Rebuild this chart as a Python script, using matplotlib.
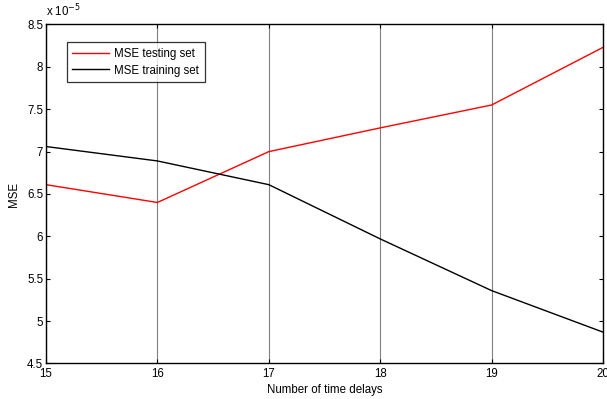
import matplotlib
matplotlib.use("Agg")
import matplotlib.pyplot as plt
from matplotlib.ticker import FuncFormatter, MultipleLocator

plt.rcParams['font.family'] = ['Liberation Sans', 'DejaVu Sans']

# MSE per number of time delays
delays = [15, 16, 17, 18, 19, 20]
mse_testing = [6.61e-5, 6.40e-5, 7.00e-5, 7.28e-5, 7.55e-5, 8.23e-5]
mse_training = [7.06e-5, 6.89e-5, 6.61e-5, 5.97e-5, 5.36e-5, 4.87e-5]

fs = 8.3

fig = plt.figure(figsize=(6.07, 3.99), dpi=100)
ax = fig.add_axes([0.0758, 0.089, 0.9176, 0.8496])

ax.plot(delays, mse_testing, color='#ff0000', linewidth=1.0, label='MSE testing set')
ax.plot(delays, mse_training, color='black', linewidth=1.0, label='MSE training set')

ax.set_xlim(15, 20)
ax.set_ylim(4.5e-5, 8.5e-5)
ax.xaxis.set_major_locator(MultipleLocator(1))
ax.yaxis.set_major_locator(MultipleLocator(0.5e-5))
ax.yaxis.set_major_formatter(FuncFormatter(lambda v, p: f"{v / 1e-5:g}"))

# vertical grid only, like the MATLAB figure
ax.grid(True, axis='x', color='0.5', linewidth=0.8, linestyle='-')
ax.tick_params(direction='in', length=3, width=0.8, labelsize=fs,
               top=True, right=True)
ax.tick_params(axis='x', pad=3.5)
ax.tick_params(axis='y', pad=2)
for s in ax.spines.values():
    s.set_linewidth(1.0)

ax.text(0.0, 1.015, r'x 10$^{-5}$', transform=ax.transAxes, fontsize=fs,
        ha='left', va='bottom')

ax.set_xlabel('Number of time delays', fontsize=fs, labelpad=2.5)
ax.set_ylabel('MSE', fontsize=fs, labelpad=5)

leg = ax.legend(loc='upper left', bbox_to_anchor=(0.037, 0.948), fontsize=fs,
                frameon=True, fancybox=False, edgecolor='black',
                borderpad=0.5, handlelength=3.2, handletextpad=0.4,
                labelspacing=0.4, borderaxespad=0)
leg.get_frame().set_linewidth(0.9)

fig.savefig('out.png', dpi=100)
